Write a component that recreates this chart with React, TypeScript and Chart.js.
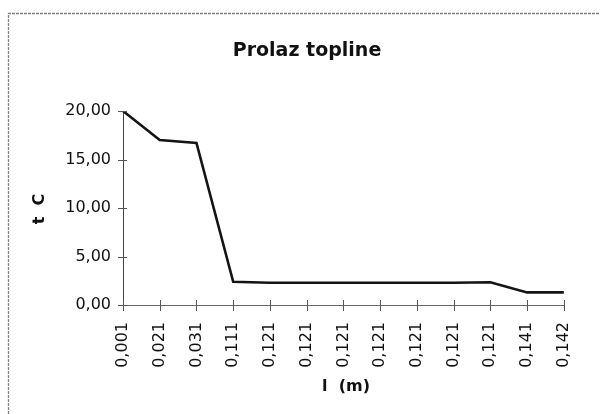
import React, { useEffect, useRef } from "react";
import { Chart, registerables } from "chart.js";

Chart.register(...registerables);

const categories: string[] = [
  "0,001", "0,021", "0,031", "0,111", "0,121", "0,121", "0,121",
  "0,121", "0,121", "0,121", "0,121", "0,141", "0,142",
];
const temperatures: number[] = [20, 17, 16.7, 2.4, 2.3, 2.3, 2.3, 2.3, 2.3, 2.3, 2.35, 1.3, 1.3];
const yTicks: number[] = [0, 5, 10, 15, 20];
const chartTitle = "Prolaz topline";
const yTitle = "t  C";
const xTitle = "l  (m)";

const FONT = "'DejaVu Sans', 'Liberation Sans', Arial, sans-serif";

const decorPlugin = {
  id: "decor",
  afterDraw(chart: any) {
    const ctx: CanvasRenderingContext2D = chart.ctx;
    const xs = chart.scales.x;
    const ys = chart.scales.y;
    const area = chart.chartArea;
    ctx.save();
    // outer frame (scanned border, only top and left visible)
    ctx.strokeStyle = "#808080";
    ctx.lineWidth = 1.3;
    ctx.setLineDash([3, 1]);
    ctx.beginPath();
    ctx.moveTo(8.5, 414);
    ctx.lineTo(8.5, 13.5);
    ctx.lineTo(600, 13.5);
    ctx.stroke();
    ctx.setLineDash([]);

    // crossing tick marks
    ctx.strokeStyle = "#555";
    ctx.lineWidth = 1;
    ctx.beginPath();
    for (let i = 0; i < categories.length; i++) {
      const px = Math.round(xs.getPixelForTick(i)) + 0.5;
      ctx.moveTo(px, area.bottom - 5);
      ctx.lineTo(px, area.bottom + 6);
    }
    for (const v of yTicks) {
      const py = Math.round(ys.getPixelForValue(v)) + 0.5;
      ctx.moveTo(area.left - 5, py);
      ctx.lineTo(area.left + 4, py);
    }
    ctx.stroke();

    // titles
    ctx.fillStyle = "#111";
    ctx.textAlign = "center";
    ctx.textBaseline = "middle";
    ctx.font = `bold 19px ${FONT}`;
    ctx.fillText(chartTitle, 307, 51);

    ctx.font = `bold 16px ${FONT}`;
    ctx.fillText(xTitle, 346, 387);

    ctx.save();
    ctx.translate(40, 209);
    ctx.rotate(-Math.PI / 2);
    ctx.fillText(yTitle, 0, 0);
    ctx.restore();

    ctx.restore();
  },
};

export default function App() {
  const canvasRef = useRef<HTMLCanvasElement | null>(null);

  useEffect(() => {
    if (!canvasRef.current) return;
    const chart = new Chart(canvasRef.current, {
      type: "line",
      data: {
        labels: categories,
        datasets: [
          {
            label: "t C",
            data: temperatures,
            borderColor: "#141414",
            borderWidth: 2.6,
            pointRadius: 0,
            tension: 0,
            fill: false,
          },
        ],
      },
      options: {
        animation: false,
        responsive: false,
        devicePixelRatio: 1,
        layout: { padding: { top: 111, right: 33, left: 0, bottom: 0 } },
        plugins: {
          legend: { display: false },
          title: { display: false },
          tooltip: { enabled: false },
        },
        scales: {
          x: {
            type: "category",
            offset: false,
            grid: { display: false, drawOnChartArea: false, drawTicks: false },
            border: { display: true, color: "#666", width: 1, dash: [3, 2] },
            ticks: {
              autoSkip: false,
              minRotation: 90,
              maxRotation: 90,
              padding: 17,
              color: "#111",
              font: { family: FONT, size: 16 },
            },
            afterFit: (s: any) => {
              s.height = 109;
            },
          },
          y: {
            min: 0,
            max: 20,
            grid: { display: false, drawOnChartArea: false, drawTicks: false },
            border: { display: true, color: "#444", width: 1 },
            ticks: {
              stepSize: 5,
              padding: 12,
              color: "#111",
              font: { family: FONT, size: 16 },
              callback: (v: any) => Number(v).toFixed(2).replace(".", ","),
            },
            afterFit: (s: any) => {
              s.width = 123;
            },
          },
        },
      },
      plugins: [decorPlugin],
    });
    return () => chart.destroy();
  }, []);

  return (
    <div style={{ position: "absolute", left: 0, top: 0, width: 600, height: 414, background: "#fff" }}>
      <canvas ref={canvasRef} width={600} height={414} style={{ display: "block" }} />
    </div>
  );
}
